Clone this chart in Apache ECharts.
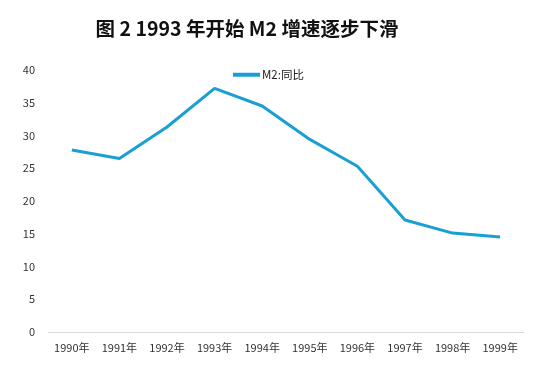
<!DOCTYPE html>
<html><head><meta charset="utf-8">
<script src="https://cdn.jsdelivr.net/npm/echarts@6/dist/echarts.min.js"></script>
<style>html,body{margin:0;padding:0;background:#fff}#c{width:544px;height:371px}</style>
</head><body><div id="c"></div>
<script>
const categories = ['1990年','1991年','1992年','1993年','1994年','1995年','1996年','1997年','1998年','1999年'];
const m2Yoy = [27.8, 26.5, 31.3, 37.2, 34.5, 29.4, 25.3, 17.1, 15.1, 14.5];
const seriesName = 'M2:同比';
const titleText = '图 2 1993 年开始 M2 增速逐步下滑';

const chart = echarts.init(document.getElementById('c'));
chart.setOption({
  animation: false,
  backgroundColor: '#fff',
  title: {
    text: titleText,
    left: 242, top: 14, textAlign: 'center',
    textStyle: {fontFamily: '"Noto Sans CJK SC"', fontSize: 19.5, fontWeight: 'bold', color: '#111'}
  },
  legend: {
    data: [seriesName], left: 228, top: 64,
    itemWidth: 27, itemHeight: 4, itemGap: 2,
    icon: 'rect',
    textStyle: {fontFamily: '"Noto Sans CJK SC"', fontSize: 11.5, color: '#222', padding: [0,0,0,-3]}
  },
  grid: {left: 48, right: 20, top: 70, bottom: 39, containLabel: false},
  xAxis: {
    type: 'category', data: categories, boundaryGap: true,
    axisLine: {lineStyle: {color: '#d9d9d9', width: 1}},
    axisTick: {show: false},
    axisLabel: {color: '#333', fontSize: 11, fontFamily: '"Noto Sans CJK SC"', margin: 10, interval: 0}
  },
  yAxis: {
    type: 'value', min: 0, max: 40, interval: 5,
    axisLine: {show: false}, axisTick: {show: false},
    splitLine: {show: false},
    axisLabel: {color: '#333', fontSize: 11, fontFamily: '"Noto Sans CJK SC"', margin: 13}
  },
  series: [{
    name: seriesName, type: 'line', data: m2Yoy,
    symbol: 'none', smooth: false,
    lineStyle: {color: '#1a9fd4', width: 3},
    itemStyle: {color: '#1a9fd4'}
  }]
});
</script></body></html>
